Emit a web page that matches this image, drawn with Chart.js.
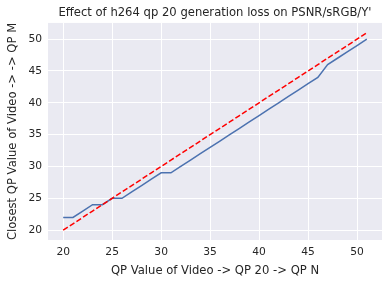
<!DOCTYPE html>
<html>
<head>
<meta charset="utf-8">
<script src="https://cdn.jsdelivr.net/npm/chart.js@4"></script>
<style>
  html, body { margin: 0; padding: 0; background: #ffffff; }
  #wrap { width: 389px; height: 284px; }
</style>
</head>
<body>
<div id="wrap"><canvas id="qpChart" width="389" height="284"></canvas></div>
<script>
// QP used for the second encode (x axis)
const qpN = [20, 21, 22, 23, 24, 25, 26, 27, 28, 29, 30, 31, 32, 33, 34, 35,
  36, 37, 38, 39, 40, 41, 42, 43, 44, 45, 46, 47, 48, 49, 50, 51];
// Closest QP of a single-generation encode with the same PSNR
const closestQP = [22, 22, 23, 24, 24, 25, 25, 26, 27, 28, 29, 29, 30, 31, 32, 33,
  34, 35, 36, 37, 38, 39, 40, 41, 42, 43, 44, 46, 47, 48, 49, 50];
// Reference line: no generation loss (M = N)
const idealQP = qpN.slice();
const tickValues = [20, 25, 30, 35, 40, 45, 50];

const textColor = '#262626';
const fontFamily = "'DejaVu Sans', sans-serif";

// seaborn-like grey plot background
const plotBackground = {
  id: 'plotBackground',
  beforeDraw(chart) {
    const { ctx, chartArea } = chart;
    ctx.save();
    ctx.fillStyle = '#EAEAF2';
    ctx.fillRect(chartArea.left, chartArea.top, chartArea.right - chartArea.left, chartArea.bottom - chartArea.top);
    ctx.restore();
  }
};

function toPoints(xs, ys) {
  return xs.map((x, i) => ({ x: x, y: ys[i] }));
}

function fixedTicks(scale) {
  scale.ticks = tickValues.map(v => ({ value: v }));
}

const ctx = document.getElementById('qpChart').getContext('2d');
new Chart(ctx, {
  type: 'line',
  data: {
    datasets: [{
      label: 'closest QP',
      data: toPoints(qpN, closestQP),
      borderColor: '#4C72B0',
      borderWidth: 1.5,
      pointRadius: 0,
      tension: 0,
      order: 1
    }, {
      label: 'M = N',
      data: toPoints(qpN, idealQP),
      borderColor: '#FF0000',
      borderWidth: 1.5,
      borderDash: [5.5, 2.4],
      pointRadius: 0,
      tension: 0,
      order: 0
    }]
  },
  options: {
    responsive: false,
    animation: false,
    layout: { padding: { left: 0, right: 7, top: 0, bottom: 0 } },
    plugins: {
      legend: { display: false },
      tooltip: { enabled: false },
      title: {
        display: true,
        fullSize: false,
        text: "Effect of h264 qp 20 generation loss on PSNR/sRGB/Y'",
        color: textColor,
        font: { family: fontFamily, size: 11.6, weight: 'normal' },
        padding: { top: 6, bottom: 3 }
      }
    },
    scales: {
      x: {
        type: 'linear',
        min: 18.45,
        max: 52.55,
        afterBuildTicks: fixedTicks,
        afterFit: (scale) => { scale.height = 44; },
        grid: { color: '#FFFFFF', lineWidth: 1, drawTicks: false },
        border: { display: false },
        ticks: { color: textColor, padding: 6, font: { family: fontFamily, size: 10.7 } },
        title: {
          display: true,
          text: 'QP Value of Video -> QP 20 -> QP N',
          color: textColor,
          font: { family: fontFamily, size: 11.6 },
          padding: { top: 4, bottom: 6 }
        }
      },
      y: {
        type: 'linear',
        min: 18.45,
        max: 52.55,
        afterBuildTicks: fixedTicks,
        afterFit: (scale) => { scale.width = 48; },
        grid: { color: '#FFFFFF', lineWidth: 1, drawTicks: false },
        border: { display: false },
        ticks: { color: textColor, padding: 6, font: { family: fontFamily, size: 10.7 } },
        title: {
          display: true,
          text: 'Closest QP Value of Video -> -> QP M',
          color: textColor,
          font: { family: fontFamily, size: 11.6 },
          padding: { top: 6, bottom: 4 }
        }
      }
    }
  },
  plugins: [plotBackground]
});
</script>
</body>
</html>
